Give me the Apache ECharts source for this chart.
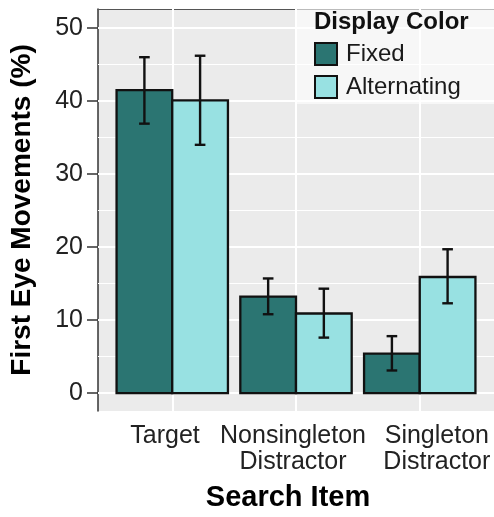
<!DOCTYPE html>
<html>
<head>
<meta charset="utf-8">
<script src="https://cdn.jsdelivr.net/npm/echarts@6/dist/echarts.min.js"></script>
<style>
  html, body { margin: 0; padding: 0; background: #fff; }
  #chart { width: 494px; height: 517px; }
</style>
</head>
<body>
<div id="chart"></div>
<script>
// Search items on the x axis
const categories = ['Target', 'Nonsingleton\nDistractor', 'Singleton\nDistractor'];
const categoryPos = [1, 2, 3];

// Fixed display colour: mean and error-bar limits (%)
const fixedMean = [41.5, 13.2, 5.4];
const fixedLow = [36.9, 10.8, 3.1];
const fixedHigh = [46.0, 15.7, 7.8];

// Alternating display colour: mean and error-bar limits (%)
const altMean = [40.1, 10.9, 15.9];
const altLow = [34.0, 7.6, 12.3];
const altHigh = [46.2, 14.3, 19.7];

// Axis ticks and gridlines
const yTicks = [0, 10, 20, 30, 40, 50];
const yMinorGrid = [5, 15, 25, 35, 45];

const FONT = '"Liberation Sans", Arial, Helvetica, sans-serif';
const FIXED_COLOR = '#2b7572';
const ALT_COLOR = '#98e1e2';

const BAR_W = 0.45;   // dodge width per bar (category units)
const CAP_HALF = 0.043;

// small horizontal nudges for the category names so the long ones don't collide
const labelNudge = [-0.058, -0.024, 0.138];
const labelPos = categoryPos.map((p, i) => p + labelNudge[i]);

function barItem(offset) {
  return function (params, api) {
    const x = api.value(0) + offset;
    const top = api.coord([x - BAR_W / 2, api.value(1)]);
    const base = api.coord([x + BAR_W / 2, 0]);
    return {
      type: 'rect',
      shape: { x: top[0], y: top[1], width: base[0] - top[0], height: base[1] - top[1] },
      style: { fill: api.visual('color'), stroke: '#111', lineWidth: 2.3 }
    };
  };
}

function errItem(offset) {
  return function (params, api) {
    const x = api.value(0) + offset;
    const hi = api.coord([x, api.value(2)]);
    const lo = api.coord([x, api.value(1)]);
    const capL = api.coord([x - CAP_HALF, 0])[0];
    const capR = api.coord([x + CAP_HALF, 0])[0];
    const st = { stroke: '#111', lineWidth: 2.4 };
    return {
      type: 'group',
      children: [
        { type: 'line', shape: { x1: hi[0], y1: hi[1], x2: lo[0], y2: lo[1] }, style: st },
        { type: 'line', shape: { x1: capL, y1: hi[1], x2: capR, y2: hi[1] }, style: st },
        { type: 'line', shape: { x1: capL, y1: lo[1], x2: capR, y2: lo[1] }, style: st }
      ]
    };
  };
}

const fixedBars = categoryPos.map((p, i) => [p, fixedMean[i]]);
const altBars = categoryPos.map((p, i) => [p, altMean[i]]);
const fixedErr = categoryPos.map((p, i) => [p, fixedLow[i], fixedHigh[i]]);
const altErr = categoryPos.map((p, i) => [p, altLow[i], altHigh[i]]);

const gridLines = []
  .concat(yTicks.map(v => ({ yAxis: v, lineStyle: { width: 2 } })))
  .concat(yMinorGrid.map(v => ({ yAxis: v, lineStyle: { width: 1 } })))
  .concat(categoryPos.map(v => ({ xAxis: v, lineStyle: { width: 2 } })));

const chart = echarts.init(document.getElementById('chart'), null, { renderer: 'canvas' });

chart.setOption({
  animation: false,
  backgroundColor: '#ffffff',
  textStyle: { fontFamily: FONT },
  grid: {
    left: 98, right: 0, top: 9, bottom: 104,
    show: true, backgroundColor: '#ebebeb', borderWidth: 0
  },
  title: {
    text: 'Display Color',
    left: 314, top: 10, padding: 0, z: 20,
    textStyle: { fontFamily: FONT, fontSize: 24, fontWeight: 'bold', color: '#111' }
  },
  legend: {
    data: ['Fixed', 'Alternating'],
    orient: 'vertical',
    left: 297, top: 9,
    padding: [33, 40, 5, 17],
    itemWidth: 22, itemHeight: 22, itemGap: 9,
    icon: 'rect',
    backgroundColor: 'rgba(255,255,255,0.6)',
    itemStyle: { borderColor: '#111', borderWidth: 2 },
    textStyle: { fontFamily: FONT, fontSize: 24, color: '#1a1a1a', padding: [0, 0, 0, 4] },
    selectedMode: false
  },
  xAxis: [{
    type: 'value',
    min: 0.4, max: 3.6,
    position: 'bottom',
    name: 'Search Item',
    nameLocation: 'middle',
    nameGap: 72,
    nameTextStyle: { fontFamily: FONT, fontSize: 29, fontWeight: 'bold', color: '#000', padding: [0, 16, 0, 0] },
    axisLine: { show: true, lineStyle: { color: '#333', width: 1.5 } },
    axisTick: { show: true, customValues: categoryPos, length: 10, lineStyle: { color: '#333', width: 1.5 } },
    axisLabel: {
      customValues: labelPos,
      formatter: v => categories[Math.round(v) - 1] || '',
      fontFamily: FONT, fontSize: 25, color: '#222', lineHeight: 26, margin: 12
    },
    splitLine: { show: false }
  }, {
    type: 'value',
    min: 0.4, max: 3.6,
    position: 'top',
    axisLine: { show: true, lineStyle: { color: '#555', width: 1.2 } },
    axisTick: { show: false },
    axisLabel: { show: false },
    splitLine: { show: false }
  }],
  yAxis: {
    type: 'value',
    min: -2.45, max: 52.6,
    name: 'First Eye Movements (%)',
    nameLocation: 'middle',
    nameGap: 62,
    nameTextStyle: { fontFamily: FONT, fontSize: 28, fontWeight: 'bold', color: '#000' },
    axisLine: { show: true, lineStyle: { color: '#333', width: 1.5 } },
    axisTick: { show: true, customValues: yTicks, length: 11, lineStyle: { color: '#333', width: 1.5 } },
    axisLabel: {
      customValues: yTicks,
      fontFamily: FONT, fontSize: 25, color: '#222', margin: 15
    },
    splitLine: { show: false }
  },
  series: [
    {
      name: 'gridlines',
      type: 'line',
      data: [],
      z: 0,
      silent: true,
      markLine: {
        z: 1,
        silent: true,
        symbol: 'none',
        label: { show: false },
        lineStyle: { color: '#ffffff', type: 'solid' },
        data: gridLines
      }
    },
    {
      name: 'Fixed', type: 'custom', z: 3,
      itemStyle: { color: FIXED_COLOR },
      renderItem: barItem(-BAR_W / 2),
      encode: { x: 0, y: 1 },
      data: fixedBars
    },
    {
      name: 'Alternating', type: 'custom', z: 3,
      itemStyle: { color: ALT_COLOR },
      renderItem: barItem(BAR_W / 2),
      encode: { x: 0, y: 1 },
      data: altBars
    },
    {
      name: 'Fixed error', type: 'custom', z: 4,
      renderItem: errItem(-BAR_W / 2),
      encode: { x: 0, y: [1, 2] },
      data: fixedErr
    },
    {
      name: 'Alternating error', type: 'custom', z: 4,
      renderItem: errItem(BAR_W / 2),
      encode: { x: 0, y: [1, 2] },
      data: altErr
    }
  ]
});
</script>
</body>
</html>
